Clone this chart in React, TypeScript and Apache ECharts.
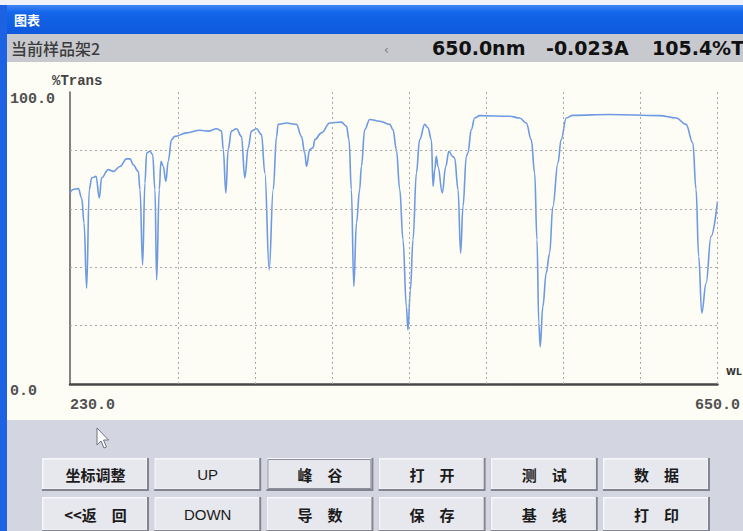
import React, { useEffect, useRef } from "react";
import * as echarts from "echarts";

// ---- data ----
const wavelengths = [
  230, 232.1, 235.4, 237.6, 239.1, 240.8, 242.5, 244.1, 246.9, 249.0,
  250.5, 254.8, 258.1, 262.4, 266.7, 268.9, 271.0, 274.3, 275.4, 277.1,
  278.6, 279.7, 281.8, 283.6, 285.1, 286.2, 287.9, 289.0, 290.5, 292.2,
  293.7, 295.9, 298.0, 305.6, 314.3, 319.6, 325.1, 328.3, 329.4, 331.1,
  332.6, 334.7, 338.0, 341.2, 343.4, 345.6, 347.7, 351.0, 354.2, 356.4,
  359.2, 361.8, 364.0, 365.0, 370.4, 376.9, 380.1, 382.3, 383.4, 385.5,
  387.7, 388.8, 393.1, 398.5, 406.0, 409.3, 411.0, 412.5, 414.1, 415.8,
  417.9, 419.0, 421.2, 424.4, 430.9, 437.4, 439.5, 441.7, 443.9, 446.0,
  448.2, 449.2, 450.8, 452.5, 454.7, 456.8, 460.1, 462.2, 464.4, 465.5,
  466.6, 467.6, 468.7, 471.5, 473.7, 475.8, 478.0, 479.5, 481.7, 483.4,
  484.9, 487.1, 488.1, 490.3, 492.5, 495.7, 515.2, 521.6, 526.0, 529.2,
  531.4, 532.9, 534.1, 535.0, 536.7, 538.9, 541.1, 543.2, 546.5, 548.6,
  551.9, 556.2, 580.0, 612.4, 623.2, 629.6, 634.0, 636.1, 637.8, 639.8,
  642.6, 645.8, 650.0,
];
const transmittance = [
  65.5, 66.6, 66.9, 63.7, 55.2, 32.8, 66.6, 70.6, 71.1, 63.7,
  70.6, 73.4, 72.8, 74.5, 77.1, 77.1, 75.1, 72.8, 66.6, 40.8,
  68.9, 79.1, 79.7, 78.6, 66.6, 35.7, 66.6, 76.3, 74.5, 69.4,
  76.3, 83.7, 84.8, 86.0, 86.9, 86.6, 87.4, 86.6, 80.3, 65.4,
  80.3, 86.6, 87.4, 84.8, 70.6, 80.9, 86.6, 87.4, 85.4, 72.3,
  39.1, 66.6, 84.8, 88.9, 89.4, 88.9, 84.8, 79.1, 74.5, 80.3,
  80.9, 83.7, 86.0, 89.4, 89.7, 88.3, 83.7, 66.6, 33.4, 55.1,
  66.6, 74.5, 87.1, 90.6, 90.0, 88.9, 87.1, 80.3, 66.6, 49.4,
  26.5, 18.5, 32.2, 49.4, 72.3, 83.7, 88.9, 87.7, 83.7, 67.7,
  73.4, 78.0, 74.5, 65.4, 74.5, 79.7, 78.0, 77.4, 66.6, 44.8,
  60.8, 78.0, 79.1, 87.1, 91.1, 91.9, 91.7, 91.1, 89.4, 83.7,
  72.3, 49.4, 20.8, 12.8, 26.5, 38.0, 44.8, 60.8, 75.7, 83.7,
  91.1, 92.0, 92.3, 91.9, 91.1, 88.9, 82.6, 66.6, 43.7, 24.3,
  34.5, 50.5, 62.5,
];

const xRange = [230, 650];
const yRange = [0, 100];
const xTickLabels = ["230.0", "650.0"];
const yTickLabels = ["0.0", "100.0"];
const gridWavelengths = [300, 350, 400, 450, 500, 550, 600, 650];
const gridPercents = [20, 40, 60, 80];

const windowTitle = "图表";
const holderText = "当前样品架2";
const readouts = ["650.0nm", "-0.023A", "105.4%T"];
const yAxisTitle = "%Trans";
const xAxisTitle = "WL";
const buttonRow1 = ["坐标调整", "UP", "峰　谷", "打　开", "测　试", "数　据"];
const buttonRow2 = ["<<返　回", "DOWN", "导　数", "保　存", "基　线", "打　印"];

const MONO = "'Liberation Mono', 'DejaVu Sans Mono', monospace";
const CJK = "'Noto Sans CJK SC', 'Noto Sans', sans-serif";

function buildButtons(labels: string[], y: number, h: number, firstRow: boolean) {
  const els: any[] = [];
  labels.forEach((label, i) => {
    const x = 42 + i * 112.2;
    const w = 107;
    const latin = /^[A-Z]+$/.test(label);
    els.push({
      type: "rect",
      z: 5,
      shape: { x: x, y: y, width: w, height: h },
      style: { fill: "#83848f" },
    });
    els.push({
      type: "rect",
      z: 6,
      shape: { x: x, y: y, width: w - 2, height: h - 2 },
      style: { fill: "#f7f7fb" },
    });
    els.push({
      type: "rect",
      z: 7,
      shape: { x: x + 1.5, y: y + 1.5, width: w - 4, height: h - 4 },
      style: {
        fill: "#e7e7ee",
        stroke: i === 2 && firstRow ? "#8f8f9c" : null,
        lineWidth: 1,
      },
    });
    els.push({
      type: "text",
      z: 8,
      x: x + w / 2,
      y: y + h / 2,
      style: {
        text: label,
        fill: "#1b1b1b",
        font: latin ? `15px 'Liberation Sans', Arial, sans-serif` : `bold 15px ${CJK}`,
        align: "center",
        verticalAlign: "middle",
      },
    });
  });
  return els;
}

export default function App() {
  const ref = useRef<HTMLDivElement>(null);

  useEffect(() => {
    if (!ref.current) return;
    const chart = echarts.init(ref.current, null, { renderer: "svg" });

    const seriesData = wavelengths.map((w, i) => [w, transmittance[i]]);

    const graphics: any[] = [
      { type: "rect", z: -20, shape: { x: 0, y: 0, width: 743, height: 6 }, style: { fill: "#eef1f8" } },
      {
        type: "rect",
        z: -20,
        shape: { x: 0, y: 5, width: 743, height: 29 },
        style: {
          fill: new echarts.graphic.LinearGradient(0, 0, 0, 1, [
            { offset: 0, color: "#3f86f4" },
            { offset: 0.25, color: "#1466ea" },
            { offset: 1, color: "#0d58dc" },
          ]),
        },
      },
      { type: "rect", z: -20, shape: { x: 0, y: 5, width: 7, height: 526 }, style: { fill: "#1d62e2" } },
      { type: "rect", z: -20, shape: { x: 7, y: 34, width: 736, height: 28 }, style: { fill: "#c8c9ce" } },
      { type: "rect", z: -20, shape: { x: 7, y: 62, width: 736, height: 358 }, style: { fill: "#fdfdf5" } },
      { type: "rect", z: -20, shape: { x: 7, y: 420, width: 736, height: 111 }, style: { fill: "#d3d5e1" } },
      {
        type: "text", z: 10, x: 14, y: 19,
        style: { text: windowTitle, fill: "#ffffff", font: `bold 13px ${CJK}`, verticalAlign: "middle" },
      },
      {
        type: "text", z: 10, x: 11, y: 48,
        style: { text: holderText, fill: "#3c3c3c", font: `500 16px ${CJK}`, verticalAlign: "middle" },
      },
      {
        type: "text", z: 10, x: 384, y: 50,
        style: { text: "‹", fill: "#777", font: `12px 'DejaVu Sans', sans-serif`, verticalAlign: "middle" },
      },
      ...readouts.map((t, i) => ({
        type: "text", z: 10, x: [432, 546, 652][i], y: 48,
        style: { text: t, fill: "#111", font: `bold 19px 'DejaVu Sans', sans-serif`, verticalAlign: "middle" },
      })),
      {
        type: "text", z: 10, x: 52, y: 81,
        style: { text: yAxisTitle, fill: "#444", font: `bold 14px ${MONO}`, verticalAlign: "middle" },
      },
      {
        type: "text", z: 10, x: 726, y: 372,
        style: { text: xAxisTitle, fill: "#333", font: `bold 9px 'DejaVu Sans', sans-serif`, verticalAlign: "middle" },
      },
      ...buildButtons(buttonRow1, 458, 33, true),
      ...buildButtons(buttonRow2, 497, 35, false),
      {
        type: "polygon", z: 12,
        shape: { points: [[97, 428], [97, 445], [101, 441], [104, 448], [106.5, 447], [103.5, 440], [108.5, 440]] },
        style: { fill: "#ffffff", stroke: "#6f7080", lineWidth: 1 },
      },
    ];

    chart.setOption({
      animation: false,
      backgroundColor: "#d3d5e1",
      graphic: graphics,
      grid: { left: 70, right: 25, top: 92, bottom: 147, containLabel: false },
      xAxis: {
        type: "value",
        min: xRange[0],
        max: xRange[1],
        axisLine: { show: true, onZero: false, lineStyle: { color: "#474747", width: 2.5 } },
        axisTick: { show: false },
        splitLine: { show: false },
        axisLabel: {
          showMinLabel: true,
          showMaxLabel: true,
          alignMinLabel: "left",
          margin: 14,
          color: "#505050",
          fontFamily: MONO,
          fontWeight: "bold",
          fontSize: 15,
          formatter: (v: number) => (v === xRange[0] ? xTickLabels[0] : v === xRange[1] ? xTickLabels[1] : ""),
        },
      },
      yAxis: {
        type: "value",
        min: yRange[0],
        max: yRange[1],
        interval: 20,
        axisLine: { show: true, lineStyle: { color: "#5a5a5a", width: 1.5 } },
        axisTick: { show: false },
        splitLine: { show: false },
        axisLabel: {
          showMinLabel: true,
          showMaxLabel: true,
          align: "left",
          verticalAlign: "top",
          margin: 60,
          color: "#505050",
          fontFamily: MONO,
          fontWeight: "bold",
          fontSize: 15,
          formatter: (v: number) => (v === yRange[0] ? yTickLabels[0] : v === yRange[1] ? yTickLabels[1] : ""),
        },
      },
      series: [
        {
          type: "line",
          data: seriesData,
          showSymbol: false,
          smooth: 0.4,
          smoothMonotone: "x",
          z: 3,
          lineStyle: { color: "#6e9ae2", width: 1.6 },
          markLine: {
            silent: true,
            symbol: ["none", "none"],
            label: { show: false },
            lineStyle: { color: "#a9a9a9", type: [2, 3], width: 1 },
            data: [
              ...gridWavelengths.map((v) => ({ xAxis: v })),
              ...gridPercents.map((v) => ({ yAxis: v })),
            ],
          },
        },
      ],
    });

    return () => chart.dispose();
  }, []);

  return (
    <div
      ref={ref}
      style={{ position: "fixed", left: 0, top: 0, width: 743, height: 531 }}
    />
  );
}
